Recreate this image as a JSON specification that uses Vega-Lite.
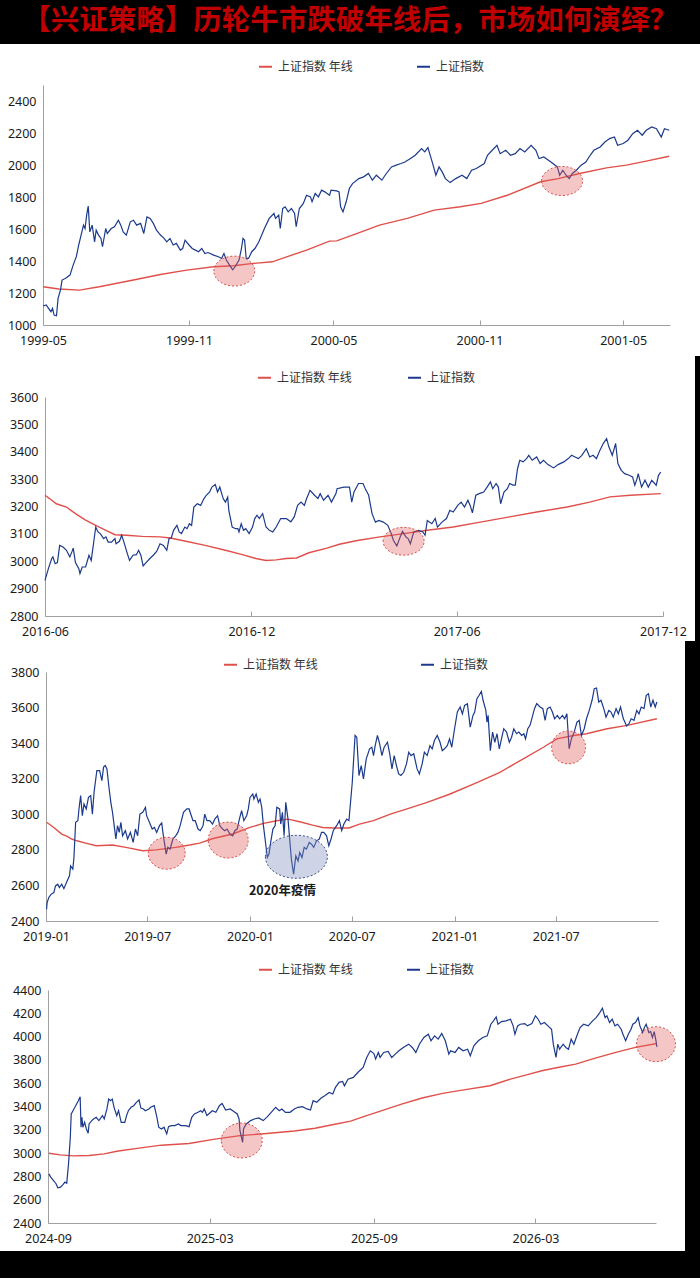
{
  "$schema": "https://vega.github.io/schema/vega-lite/v6.json",
  "background": "black",
  "padding": {"left": 0, "right": 0, "top": 7, "bottom": 27},
  "title": {
    "text": "【兴证策略】历轮牛市跌破年线后，市场如何演绎？",
    "font": "Noto Sans CJK SC", "fontSize": 28.5, "fontWeight": "bold",
    "color": "#c00000", "anchor": "middle", "offset": 8.5
  },
  "spacing": 0,
  "resolve": {
    "scale": {"x": "independent", "y": "independent", "color": "independent", "shape": "independent", "fill": "independent", "stroke": "independent"},
    "legend": {"color": "independent"}
  },
  "datasets": {
    "p1m": [
      {"d":"1999-05-01","v":1239},{"d":"1999-05-21","v":1225},{"d":"1999-06-16","v":1218},{"d":"1999-07-11","v":1239},{"d":"1999-08-23","v":1281},{"d":"1999-09-26","v":1316},{"d":"1999-10-29","v":1343},{"d":"1999-12-02","v":1364},{"d":"1999-12-27","v":1370},{"d":"2000-01-21","v":1385},{"d":"2000-02-14","v":1395},{"d":"2000-03-03","v":1426},{"d":"2000-03-28","v":1468},{"d":"2000-04-26","v":1524},{"d":"2000-05-05","v":1526},{"d":"2000-05-25","v":1562},{"d":"2000-06-28","v":1624},{"d":"2000-08-02","v":1666},{"d":"2000-09-05","v":1718},{"d":"2000-10-08","v":1739},{"d":"2000-11-03","v":1760},{"d":"2000-12-06","v":1811},{"d":"2001-01-17","v":1895},{"d":"2001-02-08","v":1915},{"d":"2001-03-07","v":1947},{"d":"2001-04-10","v":1982},{"d":"2001-05-05","v":1999},{"d":"2001-05-30","v":2024},{"d":"2001-06-28","v":2055}
    ],
    "p1i": [
      {"d":"1999-05-01","v":1119},{"d":"1999-05-05","v":1125},{"d":"1999-05-08","v":1104},{"d":"1999-05-11","v":1083},{"d":"1999-05-13","v":1104},{"d":"1999-05-15","v":1062},{"d":"1999-05-18","v":1058},{"d":"1999-05-20","v":1166},{"d":"1999-05-23","v":1218},{"d":"1999-05-25","v":1281},{"d":"1999-05-29","v":1291},{"d":"1999-06-04","v":1312},{"d":"1999-06-08","v":1374},{"d":"1999-06-12","v":1427},{"d":"1999-06-15","v":1500},{"d":"1999-06-18","v":1562},{"d":"1999-06-21","v":1624},{"d":"1999-06-23","v":1603},{"d":"1999-06-25","v":1687},{"d":"1999-06-27","v":1743},{"d":"1999-06-29","v":1582},{"d":"1999-07-02","v":1624},{"d":"1999-07-05","v":1520},{"d":"1999-07-07","v":1593},{"d":"1999-07-10","v":1562},{"d":"1999-07-13","v":1541},{"d":"1999-07-15","v":1489},{"d":"1999-07-19","v":1603},{"d":"1999-07-21","v":1572},{"d":"1999-07-26","v":1603},{"d":"1999-07-30","v":1614},{"d":"1999-08-04","v":1655},{"d":"1999-08-07","v":1624},{"d":"1999-08-10","v":1582},{"d":"1999-08-14","v":1562},{"d":"1999-08-19","v":1645},{"d":"1999-08-23","v":1655},{"d":"1999-08-27","v":1624},{"d":"1999-09-01","v":1635},{"d":"1999-09-05","v":1572},{"d":"1999-09-09","v":1676},{"d":"1999-09-13","v":1666},{"d":"1999-09-17","v":1635},{"d":"1999-09-21","v":1593},{"d":"1999-09-26","v":1562},{"d":"1999-09-30","v":1545},{"d":"1999-10-04","v":1520},{"d":"1999-10-08","v":1541},{"d":"1999-10-12","v":1500},{"d":"1999-10-16","v":1510},{"d":"1999-10-21","v":1468},{"d":"1999-10-24","v":1478},{"d":"1999-10-27","v":1530},{"d":"1999-11-01","v":1500},{"d":"1999-11-05","v":1478},{"d":"1999-11-09","v":1468},{"d":"1999-11-13","v":1458},{"d":"1999-11-17","v":1478},{"d":"1999-11-21","v":1447},{"d":"1999-11-25","v":1453},{"d":"1999-12-02","v":1437},{"d":"1999-12-08","v":1427},{"d":"1999-12-12","v":1416},{"d":"1999-12-15","v":1447},{"d":"1999-12-18","v":1406},{"d":"1999-12-22","v":1374},{"d":"1999-12-26","v":1345},{"d":"1999-12-29","v":1364},{"d":"2000-01-03","v":1406},{"d":"2000-01-06","v":1478},{"d":"2000-01-08","v":1541},{"d":"2000-01-10","v":1530},{"d":"2000-01-12","v":1416},{"d":"2000-01-15","v":1416},{"d":"2000-01-19","v":1458},{"d":"2000-01-23","v":1478},{"d":"2000-01-28","v":1520},{"d":"2000-02-04","v":1603},{"d":"2000-02-10","v":1666},{"d":"2000-02-16","v":1697},{"d":"2000-02-18","v":1666},{"d":"2000-02-22","v":1687},{"d":"2000-02-24","v":1603},{"d":"2000-02-27","v":1728},{"d":"2000-03-01","v":1739},{"d":"2000-03-05","v":1707},{"d":"2000-03-09","v":1728},{"d":"2000-03-13","v":1697},{"d":"2000-03-15","v":1614},{"d":"2000-03-19","v":1728},{"d":"2000-03-24","v":1760},{"d":"2000-03-28","v":1811},{"d":"2000-04-02","v":1801},{"d":"2000-04-04","v":1770},{"d":"2000-04-08","v":1822},{"d":"2000-04-12","v":1801},{"d":"2000-04-16","v":1843},{"d":"2000-04-20","v":1832},{"d":"2000-04-26","v":1811},{"d":"2000-04-28","v":1843},{"d":"2000-05-05","v":1838},{"d":"2000-05-08","v":1832},{"d":"2000-05-10","v":1739},{"d":"2000-05-13","v":1707},{"d":"2000-05-17","v":1770},{"d":"2000-05-21","v":1853},{"d":"2000-05-25","v":1884},{"d":"2000-06-02","v":1915},{"d":"2000-06-08","v":1926},{"d":"2000-06-14","v":1947},{"d":"2000-06-19","v":1905},{"d":"2000-06-24","v":1936},{"d":"2000-07-01","v":1905},{"d":"2000-07-05","v":1936},{"d":"2000-07-13","v":1988},{"d":"2000-07-19","v":1999},{"d":"2000-07-25","v":2009},{"d":"2000-07-30","v":2019},{"d":"2000-08-06","v":2040},{"d":"2000-08-12","v":2061},{"d":"2000-08-20","v":2103},{"d":"2000-08-24","v":2082},{"d":"2000-08-28","v":2109},{"d":"2000-09-03","v":2009},{"d":"2000-09-07","v":1936},{"d":"2000-09-11","v":1988},{"d":"2000-09-15","v":1957},{"d":"2000-09-19","v":1915},{"d":"2000-09-25","v":1890},{"d":"2000-10-02","v":1915},{"d":"2000-10-10","v":1936},{"d":"2000-10-16","v":1915},{"d":"2000-10-22","v":1967},{"d":"2000-10-28","v":1978},{"d":"2000-11-07","v":2009},{"d":"2000-11-11","v":2061},{"d":"2000-11-17","v":2092},{"d":"2000-11-23","v":2123},{"d":"2000-11-27","v":2071},{"d":"2000-12-04","v":2092},{"d":"2000-12-10","v":2061},{"d":"2000-12-16","v":2071},{"d":"2000-12-22","v":2103},{"d":"2000-12-28","v":2082},{"d":"2001-01-05","v":2123},{"d":"2001-01-11","v":2092},{"d":"2001-01-15","v":2040},{"d":"2001-01-21","v":2050},{"d":"2001-01-30","v":2019},{"d":"2001-02-07","v":1988},{"d":"2001-02-10","v":1936},{"d":"2001-02-14","v":1967},{"d":"2001-02-18","v":1936},{"d":"2001-02-22","v":1915},{"d":"2001-02-26","v":1947},{"d":"2001-03-03","v":1967},{"d":"2001-03-09","v":1999},{"d":"2001-03-15","v":2019},{"d":"2001-03-19","v":2050},{"d":"2001-03-25","v":2092},{"d":"2001-04-02","v":2113},{"d":"2001-04-08","v":2144},{"d":"2001-04-14","v":2165},{"d":"2001-04-20","v":2175},{"d":"2001-04-24","v":2123},{"d":"2001-05-01","v":2134},{"d":"2001-05-07","v":2155},{"d":"2001-05-13","v":2196},{"d":"2001-05-19","v":2217},{"d":"2001-05-25","v":2186},{"d":"2001-05-30","v":2217},{"d":"2001-06-06","v":2238},{"d":"2001-06-12","v":2227},{"d":"2001-06-18","v":2175},{"d":"2001-06-22","v":2227},{"d":"2001-06-28","v":2217}
    ],
    "p1e": [{"id":"a","d":"1999-12-28","v":1337},{"id":"b","d":"2001-02-13","v":1900}],
    "p2m": [
      {"d":"2016-06-01","v":3241},{"d":"2016-06-05","v":3229},{"d":"2016-06-11","v":3210},{"d":"2016-06-20","v":3198},{"d":"2016-06-28","v":3174},{"d":"2016-07-07","v":3150},{"d":"2016-07-16","v":3131},{"d":"2016-07-25","v":3113},{"d":"2016-08-02","v":3097},{"d":"2016-08-12","v":3095},{"d":"2016-08-26","v":3091},{"d":"2016-09-11","v":3089},{"d":"2016-09-20","v":3085},{"d":"2016-10-04","v":3073},{"d":"2016-10-21","v":3058},{"d":"2016-11-08","v":3040},{"d":"2016-11-23","v":3024},{"d":"2016-12-05","v":3010},{"d":"2016-12-14","v":3003},{"d":"2016-12-23","v":3005},{"d":"2017-01-01","v":3010},{"d":"2017-01-10","v":3012},{"d":"2017-01-21","v":3031},{"d":"2017-02-06","v":3048},{"d":"2017-02-17","v":3062},{"d":"2017-03-05","v":3076},{"d":"2017-03-25","v":3089},{"d":"2017-04-15","v":3101},{"d":"2017-05-06","v":3113},{"d":"2017-05-29","v":3125},{"d":"2017-06-22","v":3143},{"d":"2017-07-18","v":3162},{"d":"2017-08-11","v":3180},{"d":"2017-09-07","v":3198},{"d":"2017-09-27","v":3216},{"d":"2017-10-15","v":3235},{"d":"2017-11-02","v":3241},{"d":"2017-11-29","v":3247}
    ],
    "p2i": [
      {"d":"2016-06-01","v":2930},{"d":"2016-06-04","v":2973},{"d":"2016-06-07","v":3010},{"d":"2016-06-08","v":3016},{"d":"2016-06-10","v":2991},{"d":"2016-06-12","v":2995},{"d":"2016-06-14","v":3058},{"d":"2016-06-17","v":3052},{"d":"2016-06-20","v":3040},{"d":"2016-06-23","v":3016},{"d":"2016-06-25","v":3036},{"d":"2016-06-26","v":3048},{"d":"2016-06-28","v":2995},{"d":"2016-07-01","v":2973},{"d":"2016-07-02","v":2955},{"d":"2016-07-04","v":2979},{"d":"2016-07-07","v":2979},{"d":"2016-07-10","v":3022},{"d":"2016-07-12","v":3003},{"d":"2016-07-14","v":3064},{"d":"2016-07-16","v":3125},{"d":"2016-07-18","v":3107},{"d":"2016-07-20","v":3101},{"d":"2016-07-23","v":3083},{"d":"2016-07-25","v":3089},{"d":"2016-07-27","v":3070},{"d":"2016-07-30","v":3070},{"d":"2016-08-02","v":3083},{"d":"2016-08-03","v":3064},{"d":"2016-08-06","v":3073},{"d":"2016-08-08","v":3095},{"d":"2016-08-10","v":3070},{"d":"2016-08-13","v":3028},{"d":"2016-08-15","v":3003},{"d":"2016-08-18","v":3022},{"d":"2016-08-21","v":3024},{"d":"2016-08-23","v":3040},{"d":"2016-08-25","v":3022},{"d":"2016-08-27","v":2983},{"d":"2016-08-30","v":2997},{"d":"2016-09-02","v":3010},{"d":"2016-09-05","v":3022},{"d":"2016-09-08","v":3036},{"d":"2016-09-11","v":3064},{"d":"2016-09-14","v":3058},{"d":"2016-09-17","v":3040},{"d":"2016-09-19","v":3083},{"d":"2016-09-21","v":3085},{"d":"2016-09-23","v":3113},{"d":"2016-09-26","v":3131},{"d":"2016-09-28","v":3107},{"d":"2016-09-30","v":3101},{"d":"2016-10-03","v":3125},{"d":"2016-10-05","v":3119},{"d":"2016-10-07","v":3137},{"d":"2016-10-09","v":3131},{"d":"2016-10-11","v":3198},{"d":"2016-10-14","v":3210},{"d":"2016-10-17","v":3204},{"d":"2016-10-20","v":3229},{"d":"2016-10-22","v":3241},{"d":"2016-10-25","v":3253},{"d":"2016-10-27","v":3271},{"d":"2016-10-30","v":3280},{"d":"2016-11-01","v":3253},{"d":"2016-11-03","v":3271},{"d":"2016-11-06","v":3229},{"d":"2016-11-08","v":3216},{"d":"2016-11-10","v":3234},{"d":"2016-11-11","v":3186},{"d":"2016-11-14","v":3125},{"d":"2016-11-17","v":3119},{"d":"2016-11-19","v":3119},{"d":"2016-11-20","v":3107},{"d":"2016-11-22","v":3137},{"d":"2016-11-24","v":3113},{"d":"2016-11-26","v":3119},{"d":"2016-11-29","v":3101},{"d":"2016-12-02","v":3125},{"d":"2016-12-04","v":3156},{"d":"2016-12-06","v":3168},{"d":"2016-12-08","v":3156},{"d":"2016-12-11","v":3174},{"d":"2016-12-14","v":3125},{"d":"2016-12-17","v":3113},{"d":"2016-12-20","v":3107},{"d":"2016-12-23","v":3125},{"d":"2016-12-27","v":3156},{"d":"2017-01-01","v":3156},{"d":"2017-01-05","v":3144},{"d":"2017-01-08","v":3162},{"d":"2017-01-11","v":3204},{"d":"2017-01-14","v":3216},{"d":"2017-01-17","v":3204},{"d":"2017-01-19","v":3229},{"d":"2017-01-22","v":3259},{"d":"2017-01-26","v":3241},{"d":"2017-01-29","v":3229},{"d":"2017-01-31","v":3247},{"d":"2017-02-03","v":3223},{"d":"2017-02-07","v":3241},{"d":"2017-02-10","v":3216},{"d":"2017-02-14","v":3247},{"d":"2017-02-15","v":3265},{"d":"2017-02-21","v":3271},{"d":"2017-02-26","v":3271},{"d":"2017-02-28","v":3216},{"d":"2017-03-02","v":3253},{"d":"2017-03-06","v":3284},{"d":"2017-03-10","v":3284},{"d":"2017-03-12","v":3265},{"d":"2017-03-15","v":3241},{"d":"2017-03-18","v":3174},{"d":"2017-03-21","v":3143},{"d":"2017-03-24","v":3149},{"d":"2017-03-28","v":3143},{"d":"2017-04-01","v":3131},{"d":"2017-04-04","v":3101},{"d":"2017-04-06","v":3076},{"d":"2017-04-09","v":3056},{"d":"2017-04-12","v":3089},{"d":"2017-04-14","v":3109},{"d":"2017-04-17","v":3089},{"d":"2017-04-19","v":3083},{"d":"2017-04-21","v":3064},{"d":"2017-04-24","v":3107},{"d":"2017-04-28","v":3113},{"d":"2017-05-02","v":3107},{"d":"2017-05-04","v":3095},{"d":"2017-05-06","v":3149},{"d":"2017-05-10","v":3137},{"d":"2017-05-13","v":3156},{"d":"2017-05-15","v":3125},{"d":"2017-05-19","v":3143},{"d":"2017-05-23","v":3156},{"d":"2017-05-26","v":3186},{"d":"2017-05-29","v":3180},{"d":"2017-06-02","v":3204},{"d":"2017-06-05","v":3216},{"d":"2017-06-08","v":3198},{"d":"2017-06-11","v":3223},{"d":"2017-06-13","v":3204},{"d":"2017-06-15","v":3177},{"d":"2017-06-18","v":3241},{"d":"2017-06-21","v":3247},{"d":"2017-06-25","v":3253},{"d":"2017-06-28","v":3271},{"d":"2017-07-01","v":3290},{"d":"2017-07-03","v":3265},{"d":"2017-07-06","v":3284},{"d":"2017-07-08","v":3271},{"d":"2017-07-10","v":3210},{"d":"2017-07-13","v":3253},{"d":"2017-07-16","v":3265},{"d":"2017-07-18","v":3284},{"d":"2017-07-21","v":3278},{"d":"2017-07-23","v":3278},{"d":"2017-07-25","v":3338},{"d":"2017-07-27","v":3369},{"d":"2017-07-30","v":3363},{"d":"2017-08-02","v":3375},{"d":"2017-08-04","v":3387},{"d":"2017-08-07","v":3369},{"d":"2017-08-11","v":3381},{"d":"2017-08-14","v":3357},{"d":"2017-08-17","v":3369},{"d":"2017-08-21","v":3353},{"d":"2017-08-26","v":3341},{"d":"2017-08-30","v":3353},{"d":"2017-09-04","v":3363},{"d":"2017-09-08","v":3375},{"d":"2017-09-11","v":3387},{"d":"2017-09-14","v":3381},{"d":"2017-09-17","v":3375},{"d":"2017-09-20","v":3387},{"d":"2017-09-24","v":3411},{"d":"2017-09-27","v":3381},{"d":"2017-09-30","v":3387},{"d":"2017-10-03","v":3375},{"d":"2017-10-06","v":3405},{"d":"2017-10-09","v":3430},{"d":"2017-10-12","v":3448},{"d":"2017-10-14","v":3418},{"d":"2017-10-17","v":3387},{"d":"2017-10-20","v":3430},{"d":"2017-10-22","v":3357},{"d":"2017-10-25","v":3332},{"d":"2017-10-28","v":3320},{"d":"2017-11-01","v":3314},{"d":"2017-11-04","v":3308},{"d":"2017-11-06","v":3278},{"d":"2017-11-08","v":3302},{"d":"2017-11-09","v":3320},{"d":"2017-11-12","v":3271},{"d":"2017-11-15","v":3296},{"d":"2017-11-18","v":3271},{"d":"2017-11-21","v":3296},{"d":"2017-11-25","v":3278},{"d":"2017-11-27","v":3314},{"d":"2017-11-29","v":3326}
    ],
    "p2e": [{"id":"a","d":"2017-04-15","v":3073}],
    "p3m": [
      {"d":"2019-01-02","v":2955},{"d":"2019-01-15","v":2926},{"d":"2019-01-29","v":2889},{"d":"2019-02-08","v":2876},{"d":"2019-02-16","v":2861},{"d":"2019-02-25","v":2851},{"d":"2019-03-13","v":2838},{"d":"2019-04-01","v":2823},{"d":"2019-04-30","v":2827},{"d":"2019-05-24","v":2814},{"d":"2019-06-23","v":2795},{"d":"2019-07-17","v":2800},{"d":"2019-08-21","v":2814},{"d":"2019-09-15","v":2827},{"d":"2019-10-03","v":2838},{"d":"2019-10-27","v":2864},{"d":"2019-12-01","v":2889},{"d":"2020-01-01","v":2926},{"d":"2020-01-25","v":2949},{"d":"2020-02-18","v":2964},{"d":"2020-03-09","v":2973},{"d":"2020-03-30","v":2958},{"d":"2020-04-22","v":2939},{"d":"2020-05-10","v":2926},{"d":"2020-05-28","v":2923},{"d":"2020-06-26","v":2923},{"d":"2020-07-15","v":2945},{"d":"2020-08-09","v":2964},{"d":"2020-09-08","v":3001},{"d":"2020-10-08","v":3030},{"d":"2020-11-13","v":3067},{"d":"2020-12-24","v":3114},{"d":"2021-02-11","v":3180},{"d":"2021-03-23","v":3236},{"d":"2021-05-04","v":3312},{"d":"2021-06-09","v":3377},{"d":"2021-07-03","v":3424},{"d":"2021-08-02","v":3443},{"d":"2021-08-25","v":3453},{"d":"2021-10-01","v":3481},{"d":"2021-11-06","v":3500},{"d":"2021-12-29","v":3537}
    ],
    "p3i": [
      {"d":"2019-01-02","v":2466},{"d":"2019-01-03","v":2503},{"d":"2019-01-06","v":2532},{"d":"2019-01-10","v":2550},{"d":"2019-01-15","v":2560},{"d":"2019-01-18","v":2597},{"d":"2019-01-22","v":2607},{"d":"2019-01-25","v":2588},{"d":"2019-01-29","v":2607},{"d":"2019-02-02","v":2582},{"d":"2019-02-08","v":2626},{"d":"2019-02-12","v":2654},{"d":"2019-02-14","v":2710},{"d":"2019-02-18","v":2692},{"d":"2019-02-20","v":2757},{"d":"2019-02-23","v":2955},{"d":"2019-02-27","v":2964},{"d":"2019-03-01","v":3030},{"d":"2019-03-04","v":3105},{"d":"2019-03-07","v":2992},{"d":"2019-03-10","v":3058},{"d":"2019-03-14","v":3030},{"d":"2019-03-18","v":3095},{"d":"2019-03-22","v":3105},{"d":"2019-03-25","v":3001},{"d":"2019-03-28","v":3124},{"d":"2019-04-02","v":3246},{"d":"2019-04-07","v":3246},{"d":"2019-04-11","v":3189},{"d":"2019-04-14","v":3265},{"d":"2019-04-17","v":3274},{"d":"2019-04-20","v":3255},{"d":"2019-04-24","v":3142},{"d":"2019-04-27","v":3067},{"d":"2019-04-30","v":3011},{"d":"2019-05-03","v":2936},{"d":"2019-05-06","v":2861},{"d":"2019-05-09","v":2936},{"d":"2019-05-12","v":2898},{"d":"2019-05-15","v":2955},{"d":"2019-05-18","v":2879},{"d":"2019-05-23","v":2908},{"d":"2019-05-27","v":2861},{"d":"2019-06-01","v":2898},{"d":"2019-06-06","v":2842},{"d":"2019-06-10","v":2917},{"d":"2019-06-14","v":2879},{"d":"2019-06-18","v":3001},{"d":"2019-06-23","v":3011},{"d":"2019-06-28","v":3039},{"d":"2019-06-30","v":2992},{"d":"2019-07-05","v":2955},{"d":"2019-07-10","v":2917},{"d":"2019-07-14","v":2926},{"d":"2019-07-18","v":2898},{"d":"2019-07-23","v":2936},{"d":"2019-07-27","v":2951},{"d":"2019-07-30","v":2879},{"d":"2019-08-04","v":2776},{"d":"2019-08-07","v":2814},{"d":"2019-08-11","v":2804},{"d":"2019-08-16","v":2861},{"d":"2019-08-21","v":2879},{"d":"2019-08-25","v":2898},{"d":"2019-08-29","v":2936},{"d":"2019-09-04","v":3011},{"d":"2019-09-10","v":3030},{"d":"2019-09-14","v":3030},{"d":"2019-09-18","v":2992},{"d":"2019-09-21","v":2964},{"d":"2019-09-25","v":2964},{"d":"2019-09-30","v":2917},{"d":"2019-10-04","v":2908},{"d":"2019-10-09","v":2936},{"d":"2019-10-12","v":3001},{"d":"2019-10-16","v":2964},{"d":"2019-10-21","v":2964},{"d":"2019-10-26","v":2945},{"d":"2019-10-30","v":2973},{"d":"2019-11-04","v":2992},{"d":"2019-11-08","v":2936},{"d":"2019-11-13","v":2917},{"d":"2019-11-17","v":2908},{"d":"2019-11-21","v":2917},{"d":"2019-11-26","v":2889},{"d":"2019-12-01","v":2879},{"d":"2019-12-05","v":2908},{"d":"2019-12-09","v":2917},{"d":"2019-12-13","v":2973},{"d":"2019-12-17","v":3020},{"d":"2019-12-21","v":2964},{"d":"2019-12-26","v":2992},{"d":"2019-12-29","v":3030},{"d":"2020-01-01","v":3095},{"d":"2020-01-06","v":3114},{"d":"2020-01-08","v":3086},{"d":"2020-01-12","v":3114},{"d":"2020-01-16","v":3067},{"d":"2020-01-19","v":3086},{"d":"2020-01-22","v":3039},{"d":"2020-01-25","v":2936},{"d":"2020-01-28","v":2861},{"d":"2020-02-01","v":2757},{"d":"2020-02-04","v":2776},{"d":"2020-02-07","v":2842},{"d":"2020-02-11","v":2917},{"d":"2020-02-15","v":2936},{"d":"2020-02-18","v":3039},{"d":"2020-02-23","v":3030},{"d":"2020-02-25","v":2945},{"d":"2020-02-28","v":3011},{"d":"2020-03-02","v":2879},{"d":"2020-03-05","v":3067},{"d":"2020-03-09","v":2973},{"d":"2020-03-12","v":2861},{"d":"2020-03-15","v":2748},{"d":"2020-03-19","v":2663},{"d":"2020-03-23","v":2767},{"d":"2020-03-27","v":2738},{"d":"2020-03-30","v":2785},{"d":"2020-04-03","v":2757},{"d":"2020-04-07","v":2814},{"d":"2020-04-11","v":2804},{"d":"2020-04-16","v":2842},{"d":"2020-04-20","v":2832},{"d":"2020-04-24","v":2814},{"d":"2020-04-29","v":2851},{"d":"2020-05-04","v":2861},{"d":"2020-05-08","v":2898},{"d":"2020-05-12","v":2898},{"d":"2020-05-17","v":2879},{"d":"2020-05-21","v":2823},{"d":"2020-05-25","v":2861},{"d":"2020-05-29","v":2908},{"d":"2020-06-04","v":2936},{"d":"2020-06-09","v":2964},{"d":"2020-06-13","v":2908},{"d":"2020-06-17","v":2945},{"d":"2020-06-22","v":2973},{"d":"2020-06-26","v":2964},{"d":"2020-07-02","v":3180},{"d":"2020-07-07","v":3443},{"d":"2020-07-10","v":3433},{"d":"2020-07-14","v":3218},{"d":"2020-07-18","v":3274},{"d":"2020-07-22","v":3199},{"d":"2020-07-27","v":3312},{"d":"2020-08-02","v":3368},{"d":"2020-08-06","v":3377},{"d":"2020-08-09","v":3330},{"d":"2020-08-12","v":3386},{"d":"2020-08-16","v":3443},{"d":"2020-08-20","v":3396},{"d":"2020-08-24","v":3330},{"d":"2020-08-28","v":3377},{"d":"2020-09-03","v":3405},{"d":"2020-09-07","v":3340},{"d":"2020-09-11","v":3255},{"d":"2020-09-15","v":3330},{"d":"2020-09-19","v":3274},{"d":"2020-09-23","v":3227},{"d":"2020-09-27","v":3218},{"d":"2020-10-02","v":3236},{"d":"2020-10-07","v":3283},{"d":"2020-10-11","v":3349},{"d":"2020-10-15","v":3330},{"d":"2020-10-20","v":3340},{"d":"2020-10-26","v":3255},{"d":"2020-10-30","v":3227},{"d":"2020-11-04","v":3283},{"d":"2020-11-08","v":3349},{"d":"2020-11-13","v":3330},{"d":"2020-11-18","v":3386},{"d":"2020-11-22","v":3368},{"d":"2020-11-26","v":3415},{"d":"2020-12-01","v":3443},{"d":"2020-12-06","v":3405},{"d":"2020-12-10","v":3358},{"d":"2020-12-14","v":3368},{"d":"2020-12-19","v":3386},{"d":"2020-12-23","v":3424},{"d":"2020-12-27","v":3377},{"d":"2021-01-01","v":3481},{"d":"2021-01-06","v":3575},{"d":"2021-01-11","v":3603},{"d":"2021-01-15","v":3565},{"d":"2021-01-19","v":3612},{"d":"2021-01-24","v":3622},{"d":"2021-01-29","v":3490},{"d":"2021-02-03","v":3556},{"d":"2021-02-06","v":3575},{"d":"2021-02-10","v":3650},{"d":"2021-02-14","v":3669},{"d":"2021-02-18","v":3691},{"d":"2021-02-21","v":3641},{"d":"2021-02-26","v":3584},{"d":"2021-02-28","v":3518},{"d":"2021-03-02","v":3556},{"d":"2021-03-06","v":3358},{"d":"2021-03-10","v":3462},{"d":"2021-03-14","v":3405},{"d":"2021-03-18","v":3453},{"d":"2021-03-22","v":3368},{"d":"2021-03-26","v":3424},{"d":"2021-03-30","v":3481},{"d":"2021-04-04","v":3462},{"d":"2021-04-09","v":3405},{"d":"2021-04-13","v":3433},{"d":"2021-04-17","v":3481},{"d":"2021-04-22","v":3453},{"d":"2021-04-26","v":3462},{"d":"2021-05-01","v":3443},{"d":"2021-05-05","v":3453},{"d":"2021-05-08","v":3424},{"d":"2021-05-12","v":3481},{"d":"2021-05-16","v":3500},{"d":"2021-05-20","v":3546},{"d":"2021-05-24","v":3594},{"d":"2021-05-28","v":3622},{"d":"2021-06-03","v":3603},{"d":"2021-06-08","v":3594},{"d":"2021-06-12","v":3528},{"d":"2021-06-16","v":3594},{"d":"2021-06-21","v":3603},{"d":"2021-06-25","v":3575},{"d":"2021-06-29","v":3537},{"d":"2021-07-04","v":3556},{"d":"2021-07-08","v":3537},{"d":"2021-07-13","v":3556},{"d":"2021-07-17","v":3537},{"d":"2021-07-21","v":3565},{"d":"2021-07-25","v":3368},{"d":"2021-07-29","v":3424},{"d":"2021-08-03","v":3462},{"d":"2021-08-08","v":3518},{"d":"2021-08-12","v":3528},{"d":"2021-08-16","v":3443},{"d":"2021-08-21","v":3481},{"d":"2021-08-25","v":3537},{"d":"2021-08-30","v":3584},{"d":"2021-09-04","v":3641},{"d":"2021-09-08","v":3706},{"d":"2021-09-12","v":3710},{"d":"2021-09-16","v":3631},{"d":"2021-09-20","v":3641},{"d":"2021-09-25","v":3594},{"d":"2021-09-29","v":3546},{"d":"2021-10-04","v":3584},{"d":"2021-10-08","v":3575},{"d":"2021-10-12","v":3546},{"d":"2021-10-17","v":3594},{"d":"2021-10-21","v":3565},{"d":"2021-10-25","v":3603},{"d":"2021-10-30","v":3537},{"d":"2021-11-05","v":3496},{"d":"2021-11-09","v":3509},{"d":"2021-11-13","v":3537},{"d":"2021-11-18","v":3528},{"d":"2021-11-23","v":3584},{"d":"2021-11-27","v":3565},{"d":"2021-12-01","v":3603},{"d":"2021-12-06","v":3594},{"d":"2021-12-10","v":3669},{"d":"2021-12-14","v":3678},{"d":"2021-12-18","v":3603},{"d":"2021-12-22","v":3641},{"d":"2021-12-26","v":3603},{"d":"2021-12-29","v":3631}
    ],
    "p3e": [{"id":"a","d":"2019-08-05","v":2781},{"id":"b","d":"2019-11-23","v":2855},{"id":"c","d":"2020-03-24","v":2761},{"id":"d","d":"2021-07-24","v":3376}],
    "p3t": [{"d":"2020-02-28","v":2569,"t":"2020年疫情"}],
    "p4m": [
      {"d":"2024-09-02","v":2999},{"d":"2024-09-15","v":2985},{"d":"2024-09-29","v":2976},{"d":"2024-10-17","v":2979},{"d":"2024-11-03","v":2993},{"d":"2024-11-17","v":3016},{"d":"2024-12-14","v":3045},{"d":"2025-01-06","v":3068},{"d":"2025-02-06","v":3082},{"d":"2025-03-07","v":3120},{"d":"2025-04-04","v":3150},{"d":"2025-05-04","v":3168},{"d":"2025-06-04","v":3190},{"d":"2025-06-27","v":3213},{"d":"2025-07-18","v":3245},{"d":"2025-08-06","v":3275},{"d":"2025-08-18","v":3307},{"d":"2025-09-10","v":3364},{"d":"2025-10-02","v":3421},{"d":"2025-10-25","v":3473},{"d":"2025-11-17","v":3513},{"d":"2025-12-09","v":3541},{"d":"2026-01-09","v":3578},{"d":"2026-02-01","v":3635},{"d":"2026-02-19","v":3672},{"d":"2026-03-08","v":3707},{"d":"2026-03-26","v":3735},{"d":"2026-04-15","v":3764},{"d":"2026-05-07","v":3815},{"d":"2026-05-30","v":3864},{"d":"2026-06-21","v":3907},{"d":"2026-07-15","v":3941}
    ],
    "p4i": [
      {"d":"2024-09-02","v":2822},{"d":"2024-09-04","v":2794},{"d":"2024-09-07","v":2765},{"d":"2024-09-10","v":2737},{"d":"2024-09-12","v":2702},{"d":"2024-09-15","v":2708},{"d":"2024-09-18","v":2731},{"d":"2024-09-20","v":2751},{"d":"2024-09-22","v":2742},{"d":"2024-09-24","v":2908},{"d":"2024-09-26","v":3136},{"d":"2024-09-27","v":3336},{"d":"2024-09-29","v":3364},{"d":"2024-10-02","v":3407},{"d":"2024-10-05","v":3450},{"d":"2024-10-07","v":3484},{"d":"2024-10-08","v":3222},{"d":"2024-10-09","v":3307},{"d":"2024-10-10","v":3222},{"d":"2024-10-12","v":3264},{"d":"2024-10-14","v":3207},{"d":"2024-10-16","v":3170},{"d":"2024-10-17","v":3250},{"d":"2024-10-20","v":3279},{"d":"2024-10-22","v":3293},{"d":"2024-10-25","v":3307},{"d":"2024-10-28","v":3279},{"d":"2024-11-01","v":3322},{"d":"2024-11-03","v":3293},{"d":"2024-11-06","v":3379},{"d":"2024-11-08","v":3464},{"d":"2024-11-10","v":3450},{"d":"2024-11-12","v":3464},{"d":"2024-11-14","v":3393},{"d":"2024-11-17","v":3322},{"d":"2024-11-19","v":3364},{"d":"2024-11-22","v":3264},{"d":"2024-11-26","v":3264},{"d":"2024-11-28","v":3322},{"d":"2024-11-30","v":3364},{"d":"2024-12-03","v":3393},{"d":"2024-12-06","v":3407},{"d":"2024-12-09","v":3436},{"d":"2024-12-12","v":3456},{"d":"2024-12-14","v":3387},{"d":"2024-12-17","v":3379},{"d":"2024-12-19","v":3364},{"d":"2024-12-23","v":3379},{"d":"2024-12-25","v":3393},{"d":"2024-12-29","v":3407},{"d":"2025-01-01","v":3307},{"d":"2025-01-03","v":3222},{"d":"2025-01-06","v":3207},{"d":"2025-01-09","v":3222},{"d":"2025-01-12","v":3165},{"d":"2025-01-14","v":3227},{"d":"2025-01-17","v":3236},{"d":"2025-01-21","v":3236},{"d":"2025-01-25","v":3250},{"d":"2025-01-28","v":3236},{"d":"2025-02-02","v":3236},{"d":"2025-02-06","v":3227},{"d":"2025-02-09","v":3307},{"d":"2025-02-12","v":3336},{"d":"2025-02-16","v":3350},{"d":"2025-02-19","v":3364},{"d":"2025-02-21","v":3350},{"d":"2025-02-23","v":3379},{"d":"2025-02-26","v":3322},{"d":"2025-02-28","v":3336},{"d":"2025-03-04","v":3364},{"d":"2025-03-08","v":3350},{"d":"2025-03-12","v":3407},{"d":"2025-03-15","v":3427},{"d":"2025-03-19","v":3370},{"d":"2025-03-24","v":3379},{"d":"2025-03-27","v":3364},{"d":"2025-04-01","v":3336},{"d":"2025-04-03","v":3293},{"d":"2025-04-04","v":3193},{"d":"2025-04-07","v":3093},{"d":"2025-04-08","v":3207},{"d":"2025-04-11","v":3250},{"d":"2025-04-16","v":3279},{"d":"2025-04-20","v":3293},{"d":"2025-04-25","v":3302},{"d":"2025-04-30","v":3279},{"d":"2025-05-04","v":3307},{"d":"2025-05-09","v":3350},{"d":"2025-05-14","v":3393},{"d":"2025-05-18","v":3364},{"d":"2025-05-21","v":3379},{"d":"2025-05-25","v":3350},{"d":"2025-05-30","v":3350},{"d":"2025-06-04","v":3379},{"d":"2025-06-08","v":3393},{"d":"2025-06-13","v":3399},{"d":"2025-06-18","v":3379},{"d":"2025-06-22","v":3370},{"d":"2025-06-25","v":3450},{"d":"2025-06-29","v":3436},{"d":"2025-07-04","v":3473},{"d":"2025-07-08","v":3493},{"d":"2025-07-13","v":3521},{"d":"2025-07-17","v":3507},{"d":"2025-07-20","v":3564},{"d":"2025-07-24","v":3607},{"d":"2025-07-28","v":3615},{"d":"2025-07-30","v":3578},{"d":"2025-08-03","v":3635},{"d":"2025-08-09","v":3650},{"d":"2025-08-14","v":3692},{"d":"2025-08-20","v":3735},{"d":"2025-08-24","v":3821},{"d":"2025-08-28","v":3878},{"d":"2025-09-01","v":3855},{"d":"2025-09-03","v":3807},{"d":"2025-09-06","v":3864},{"d":"2025-09-08","v":3821},{"d":"2025-09-12","v":3864},{"d":"2025-09-17","v":3872},{"d":"2025-09-21","v":3821},{"d":"2025-09-25","v":3850},{"d":"2025-09-29","v":3878},{"d":"2025-10-04","v":3907},{"d":"2025-10-10","v":3935},{"d":"2025-10-14","v":3907},{"d":"2025-10-18","v":3864},{"d":"2025-10-22","v":3935},{"d":"2025-10-27","v":3992},{"d":"2025-11-01","v":4020},{"d":"2025-11-04","v":3964},{"d":"2025-11-08","v":4006},{"d":"2025-11-12","v":3978},{"d":"2025-11-16","v":4026},{"d":"2025-11-20","v":3964},{"d":"2025-11-24","v":3850},{"d":"2025-11-26","v":3878},{"d":"2025-12-01","v":3864},{"d":"2025-12-05","v":3907},{"d":"2025-12-10","v":3878},{"d":"2025-12-15","v":3892},{"d":"2025-12-18","v":3835},{"d":"2025-12-22","v":3921},{"d":"2025-12-27","v":3964},{"d":"2026-01-01","v":3992},{"d":"2026-01-06","v":4006},{"d":"2026-01-10","v":4106},{"d":"2026-01-13","v":4135},{"d":"2026-01-16","v":4169},{"d":"2026-01-18","v":4106},{"d":"2026-01-22","v":4129},{"d":"2026-01-27","v":4135},{"d":"2026-02-01","v":4149},{"d":"2026-02-04","v":4092},{"d":"2026-02-06","v":4020},{"d":"2026-02-09","v":4092},{"d":"2026-02-12","v":4106},{"d":"2026-02-17","v":4112},{"d":"2026-02-20","v":4092},{"d":"2026-02-25","v":4112},{"d":"2026-03-01","v":4178},{"d":"2026-03-04","v":4149},{"d":"2026-03-07","v":4106},{"d":"2026-03-11","v":4121},{"d":"2026-03-15","v":4092},{"d":"2026-03-19","v":4063},{"d":"2026-03-21","v":3935},{"d":"2026-03-24","v":3821},{"d":"2026-03-26","v":3935},{"d":"2026-03-28","v":3892},{"d":"2026-04-01","v":3935},{"d":"2026-04-04","v":3907},{"d":"2026-04-07","v":3892},{"d":"2026-04-10","v":3978},{"d":"2026-04-13","v":3935},{"d":"2026-04-17","v":4020},{"d":"2026-04-20","v":4078},{"d":"2026-04-24","v":4106},{"d":"2026-04-29","v":4092},{"d":"2026-05-04","v":4135},{"d":"2026-05-08","v":4163},{"d":"2026-05-12","v":4206},{"d":"2026-05-15","v":4243},{"d":"2026-05-18","v":4163},{"d":"2026-05-20","v":4178},{"d":"2026-05-23","v":4121},{"d":"2026-05-26","v":4149},{"d":"2026-05-29","v":4092},{"d":"2026-06-01","v":4106},{"d":"2026-06-05","v":4063},{"d":"2026-06-07","v":4020},{"d":"2026-06-10","v":3964},{"d":"2026-06-13","v":4020},{"d":"2026-06-16","v":4063},{"d":"2026-06-18","v":4106},{"d":"2026-06-21","v":4121},{"d":"2026-06-24","v":4163},{"d":"2026-06-26","v":4092},{"d":"2026-06-29","v":4035},{"d":"2026-07-01","v":4078},{"d":"2026-07-03","v":4106},{"d":"2026-07-06","v":4035},{"d":"2026-07-08","v":4043},{"d":"2026-07-10","v":3992},{"d":"2026-07-12","v":4043},{"d":"2026-07-14","v":3964},{"d":"2026-07-15","v":3912}
    ],
    "p4e": [{"id":"a","d":"2025-04-06","v":3108},{"id":"b","d":"2026-07-14","v":3935}]
  },
  "vconcat": [
    {
      "width": 700, "height": 312,
      "encoding": {
        "x": {"field": "d", "type": "temporal", "title": null,
          "scale": {"type": "utc", "nice": false, "range": [43, 670],
            "domain": [{"year": 1999, "month": 5, "date": 1, "utc": true}, {"year": 2001, "month": 6, "date": 29, "utc": true}]},
          "axis": {"format": "%Y-%m", "offset": -31,
            "values": [{"year": 1999, "month": 5, "date": 1, "utc": true}, {"year": 1999, "month": 11, "date": 1, "utc": true}, {"year": 2000, "month": 5, "date": 1, "utc": true}, {"year": 2000, "month": 11, "date": 1, "utc": true}, {"year": 2001, "month": 5, "date": 1, "utc": true}]}},
        "y": {"field": "v", "type": "quantitative", "title": null,
          "scale": {"domain": [1000, 2500], "range": [281, 41], "nice": false, "zero": false},
          "axis": {"offset": -43, "format": "d", "values": [1000, 1200, 1400, 1600, 1800, 2000, 2200, 2400]}}
      },
      "layer": [
        {"data": {"name": "p1m"}, "mark": {"type": "line", "strokeWidth": 1.4},
          "encoding": {"color": {"datum": "上证指数 年线",
            "scale": {"domain": ["上证指数 年线", "上证指数"], "range": ["#e0504a", "#1c3a8c"]},
            "legend": {"orient": "none", "legendX": 258, "legendY": 15, "columnPadding": 60}}}},
        {"data": {"name": "p1i"}, "mark": {"type": "line", "strokeWidth": 1.2},
          "encoding": {"color": {"datum": "上证指数"}}},
        {"data": {"name": "p1e"},
          "mark": {"type": "point", "filled": true, "opacity": 1, "size": 1681, "fill": "#e35d5d", "fillOpacity": 0.35, "stroke": "#d9534f", "strokeWidth": 1, "strokeDash": [2, 2]},
          "encoding": {
            "shape": {"field": "id", "type": "nominal", "legend": null,
              "scale": {"domain": ["a", "b"], "range": ["M-1,0A1,0.73,0,1,1,1,0A1,0.73,0,1,1,-1,0Z", "M-1,0A1,0.71,0,1,1,1,0A1,0.71,0,1,1,-1,0Z"]}}}}
      ]
    },
    {
      "width": 695, "height": 285,
      "encoding": {
        "x": {"field": "d", "type": "temporal", "title": null,
          "scale": {"type": "utc", "nice": false, "range": [45, 663],
            "domain": [{"year": 2016, "month": 6, "date": 1, "utc": true}, {"year": 2017, "month": 12, "date": 1, "utc": true}]},
          "axis": {"format": "%Y-%m", "offset": -25,
            "values": [{"year": 2016, "month": 6, "date": 1, "utc": true}, {"year": 2016, "month": 12, "date": 1, "utc": true}, {"year": 2017, "month": 6, "date": 1, "utc": true}, {"year": 2017, "month": 12, "date": 1, "utc": true}]}},
        "y": {"field": "v", "type": "quantitative", "title": null,
          "scale": {"domain": [2800, 3600], "range": [260, 41], "nice": false, "zero": false},
          "axis": {"offset": -45, "format": "d", "values": [2800, 2900, 3000, 3100, 3200, 3300, 3400, 3500, 3600]}}
      },
      "layer": [
        {"data": {"name": "p2m"}, "mark": {"type": "line", "strokeWidth": 1.4},
          "encoding": {"color": {"datum": "上证指数 年线",
            "scale": {"domain": ["上证指数 年线", "上证指数"], "range": ["#e0504a", "#1c3a8c"]},
            "legend": {"orient": "none", "legendX": 257, "legendY": 14, "columnPadding": 52}}}},
        {"data": {"name": "p2i"}, "mark": {"type": "line", "strokeWidth": 1.2},
          "encoding": {"color": {"datum": "上证指数"}}},
        {"data": {"name": "p2e"},
          "mark": {"type": "point", "filled": true, "opacity": 1, "fill": "#e35d5d", "fillOpacity": 0.35, "stroke": "#d9534f", "strokeWidth": 1, "strokeDash": [2, 2],
            "shape": "M-1,0A1,0.68,0,1,1,1,0A1,0.68,0,1,1,-1,0Z", "size": 1681}}
      ]
    },
    {
      "width": 685, "height": 303,
      "encoding": {
        "x": {"field": "d", "type": "temporal", "title": null,
          "scale": {"type": "utc", "nice": false, "range": [46, 658],
            "domain": [{"year": 2019, "month": 1, "date": 1, "utc": true}, {"year": 2021, "month": 12, "date": 31, "utc": true}]},
          "axis": {"format": "%Y-%m", "offset": -23,
            "values": [{"year": 2019, "month": 1, "date": 1, "utc": true}, {"year": 2019, "month": 7, "date": 1, "utc": true}, {"year": 2020, "month": 1, "date": 1, "utc": true}, {"year": 2020, "month": 7, "date": 1, "utc": true}, {"year": 2021, "month": 1, "date": 1, "utc": true}, {"year": 2021, "month": 7, "date": 1, "utc": true}]}},
        "y": {"field": "v", "type": "quantitative", "title": null,
          "scale": {"domain": [2400, 3800], "range": [280, 31], "nice": false, "zero": false},
          "axis": {"offset": -46, "format": "d", "values": [2400, 2600, 2800, 3000, 3200, 3400, 3600, 3800]}}
      },
      "layer": [
        {"data": {"name": "p3m"}, "mark": {"type": "line", "strokeWidth": 1.4},
          "encoding": {"color": {"datum": "上证指数 年线",
            "scale": {"domain": ["上证指数 年线", "上证指数"], "range": ["#e0504a", "#1c3a8c"]},
            "legend": {"orient": "none", "legendX": 223, "legendY": 16, "columnPadding": 99}}}},
        {"data": {"name": "p3i"}, "mark": {"type": "line", "strokeWidth": 1.2},
          "encoding": {"color": {"datum": "上证指数"}}},
        {"data": {"name": "p3e"},
          "mark": {"type": "point", "filled": true, "opacity": 1, "size": 3844, "fillOpacity": 0.38, "strokeWidth": 1, "strokeDash": [2, 2]},
          "encoding": {
            "fill": {"field": "id", "type": "nominal", "legend": null,
              "scale": {"domain": ["a", "b", "c", "d"], "range": ["#e35d5d", "#e35d5d", "#7f8fbd", "#e35d5d"]}},
            "stroke": {"field": "id", "type": "nominal", "legend": null,
              "scale": {"domain": ["a", "b", "c", "d"], "range": ["#d9534f", "#d9534f", "#3f5289", "#d9534f"]}},
            "shape": {"field": "id", "type": "nominal", "legend": null,
              "scale": {"domain": ["a", "b", "c", "d"], "range": ["M-0.597,0A0.597,0.516,0,1,1,0.597,0A0.597,0.516,0,1,1,-0.597,0Z", "M-0.645,0A0.645,0.581,0,1,1,0.645,0A0.645,0.581,0,1,1,-0.645,0Z", "M-1,0A1,0.694,0,1,1,1,0A1,0.694,0,1,1,-1,0Z", "M-0.548,0A0.548,0.532,0,1,1,0.548,0A0.548,0.532,0,1,1,-0.548,0Z"]}}}},
        {"data": {"name": "p3t"},
          "mark": {"type": "text", "font": "Noto Sans CJK SC", "fontSize": 12.5, "fontWeight": "bold", "color": "#1a1a1a"},
          "encoding": {"text": {"field": "t"}}}
      ]
    },
    {
      "width": 685, "height": 307,
      "encoding": {
        "x": {"field": "d", "type": "temporal", "title": null,
          "scale": {"type": "utc", "nice": false, "range": [48, 656],
            "domain": [{"year": 2024, "month": 9, "date": 1, "utc": true}, {"year": 2026, "month": 7, "date": 14, "utc": true}]},
          "axis": {"format": "%Y-%m", "offset": -28,
            "values": [{"year": 2024, "month": 9, "date": 1, "utc": true}, {"year": 2025, "month": 3, "date": 1, "utc": true}, {"year": 2025, "month": 9, "date": 1, "utc": true}, {"year": 2026, "month": 3, "date": 1, "utc": true}]}},
        "y": {"field": "v", "type": "quantitative", "title": null,
          "scale": {"domain": [2400, 4400], "range": [279, 46], "nice": false, "zero": false},
          "axis": {"offset": -48, "format": "d", "values": [2400, 2600, 2800, 3000, 3200, 3400, 3600, 3800, 4000, 4200, 4400]}}
      },
      "layer": [
        {"data": {"name": "p4m"}, "mark": {"type": "line", "strokeWidth": 1.4},
          "encoding": {"color": {"datum": "上证指数 年线",
            "scale": {"domain": ["上证指数 年线", "上证指数"], "range": ["#e0504a", "#1c3a8c"]},
            "legend": {"orient": "none", "legendX": 258, "legendY": 18, "columnPadding": 50}}}},
        {"data": {"name": "p4i"}, "mark": {"type": "line", "strokeWidth": 1.2},
          "encoding": {"color": {"datum": "上证指数"}}},
        {"data": {"name": "p4e"},
          "mark": {"type": "point", "filled": true, "opacity": 1, "size": 1681, "fill": "#e35d5d", "fillOpacity": 0.35, "stroke": "#d9534f", "strokeWidth": 1, "strokeDash": [2, 2]},
          "encoding": {
            "shape": {"field": "id", "type": "nominal", "legend": null,
              "scale": {"domain": ["a", "b"], "range": ["M-1,0A1,0.854,0,1,1,1,0A1,0.854,0,1,1,-1,0Z", "M-0.951,0A0.951,0.854,0,1,1,0.951,0A0.951,0.854,0,1,1,-0.951,0Z"]}}}}
      ]
    }
  ],
  "config": {
    "view": {"stroke": null, "fill": "white"},
    "font": "Noto Sans",
    "axis": {"grid": false, "domainColor": "#a0a0a0", "domainWidth": 1, "tickColor": "#a0a0a0",
      "labelFont": "Noto Sans", "labelFontSize": 12.5, "labelColor": "#1a1a1a"},
    "axisX": {"tickSize": -5, "labelPadding": 14, "labelFlush": false, "labelOverlap": false},
    "axisY": {"ticks": false, "labelPadding": 7, "labelOverlap": false},
    "legend": {"direction": "horizontal", "title": null, "symbolType": "stroke", "symbolStrokeWidth": 2,
      "symbolSize": 169, "labelFont": "Noto Sans CJK SC", "labelFontSize": 12, "labelColor": "#333333",
      "labelOffset": 5, "padding": 0}
  }
}
